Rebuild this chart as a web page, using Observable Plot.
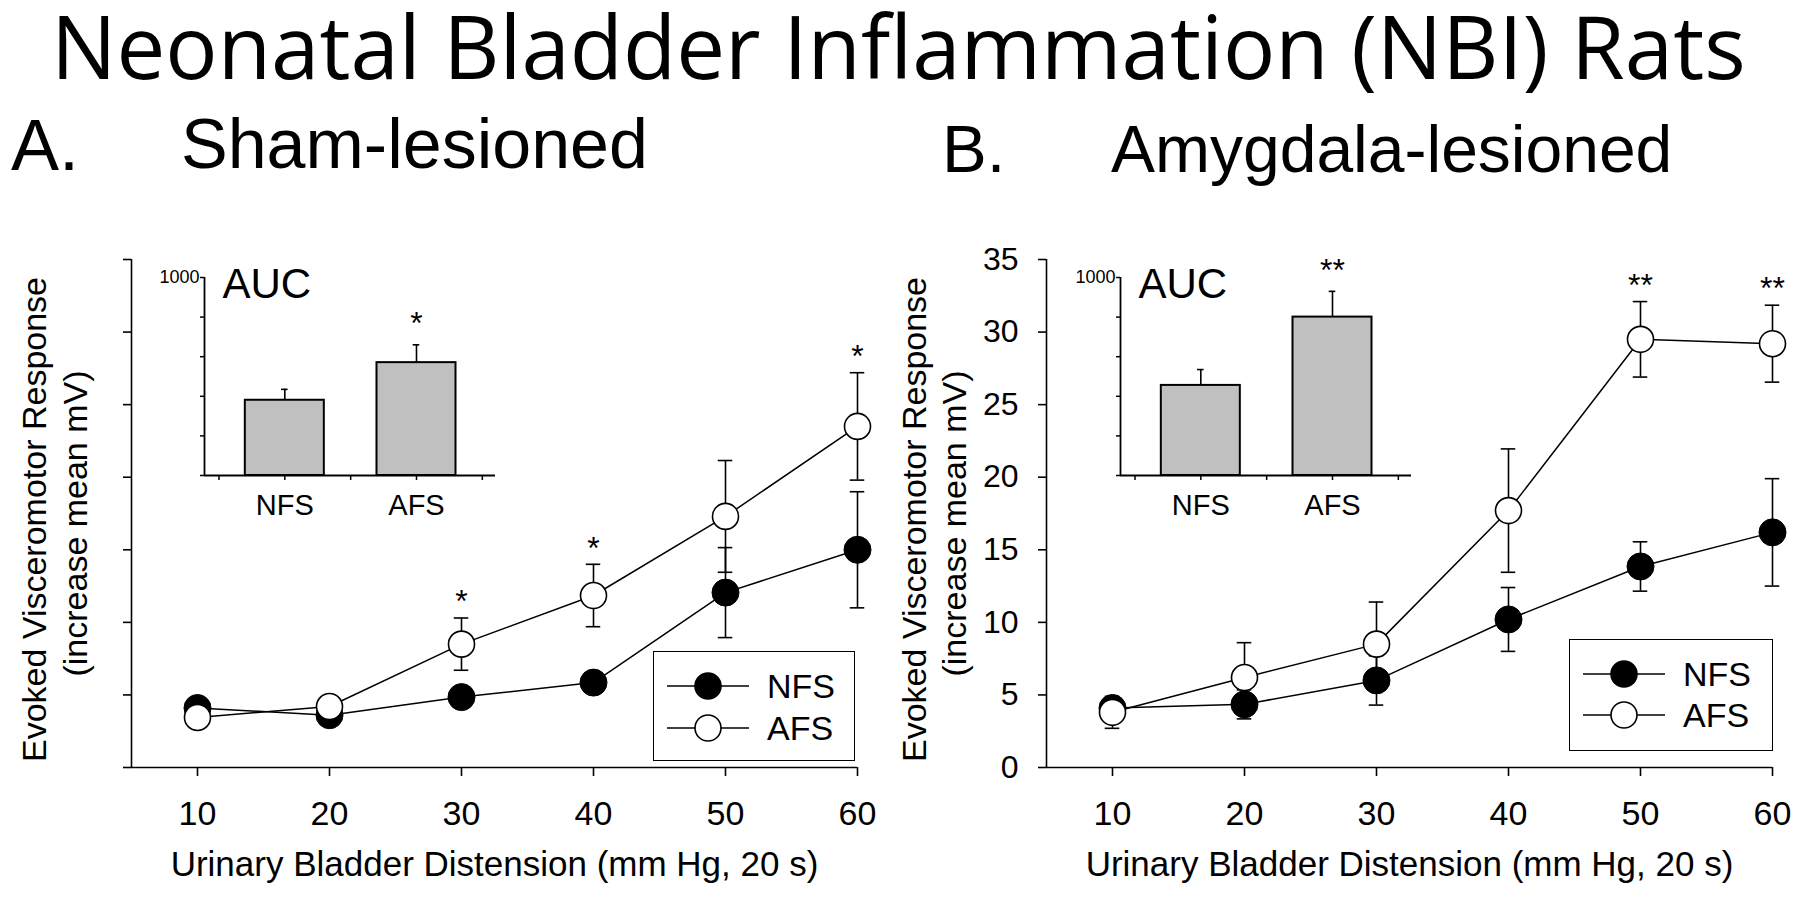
<!DOCTYPE html>
<html><head><meta charset="utf-8">
<script src="https://cdn.jsdelivr.net/npm/d3@7"></script>
<script src="https://cdn.jsdelivr.net/npm/@observablehq/plot@0.6"></script>
<style>
html,body{margin:0;padding:0;background:#fff;}
#fig{position:relative;width:1800px;height:901px;overflow:hidden;font-family:"Liberation Sans",Arial,sans-serif;color:#000;}
.abs{position:absolute;white-space:nowrap;line-height:1;}
#fig svg{background:transparent !important;overflow:visible;max-width:none;}
.panel{position:absolute;}
.legend{position:absolute;border:1.5px solid #000;background:#fff;box-sizing:border-box;}
.legend span{position:absolute;font-size:34px;line-height:1;}
</style></head><body><div id="fig"></div>
<script>
// ---------- data ----------
const pressures = [10, 20, 30, 40, 50, 60];
const yTicks = [0, 5, 10, 15, 20, 25, 30, 35];
const groups = ["NFS", "AFS"];

const shamNFS    = [4.1, 3.6, 4.85, 5.85, 12.05, 15.0];
const shamNFSerr = [0.3, 0.3, 0.4, 0.5, 3.1, 4.0];
const shamAFS    = [3.45, 4.2, 8.5, 11.85, 17.3, 23.5];
const shamAFSerr = [0.3, 0.3, 1.8, 2.15, 3.85, 3.7];
const shamSig    = ["", "", "*", "*", "", "*"];

const amyNFS    = [4.1, 4.35, 6.0, 10.2, 13.85, 16.2];
const amyNFSerr = [0.5, 1.0, 1.7, 2.2, 1.7, 3.7];
const amyAFS    = [3.8, 6.2, 8.5, 17.7, 29.5, 29.2];
const amyAFSerr = [1.1, 2.4, 2.9, 4.25, 2.6, 2.65];
const amySig    = ["", "", "", "", "**", "**"];

const aucTicks = [0, 200, 400, 600, 800, 1000];
const aucXTicks = [0.5, 1, 1.5, 2, 2.5];
const shamAUC = [380, 570], shamAUCerr = [55, 90], shamAUCsig = ["", "*"];
const amyAUC  = [455, 800], amyAUCerr  = [80, 130], amyAUCsig  = ["", "**"];

const xDomain = [5, 60];
const yDomain = [0, 35];
const aucXDomain = [0.39, 2.6];
const aucYDomain = [0, 1000];

const FONT = "Liberation Sans, Arial, sans-serif";
const fig = document.getElementById("fig");

function mainPlot(nfs, nfsErr, afs, afsErr, sig, labels, mL, mR) {
  const nfsRows = pressures.map((p, i) => ({p, m: nfs[i], e: nfsErr[i]}));
  const afsRows = pressures.map((p, i) => ({p, m: afs[i], e: afsErr[i], s: sig[i]}));
  const all = nfsRows.concat(afsRows);
  const capW = 0.55;
  return Plot.plot({
    width: 900, height: 701,
    marginLeft: mL, marginRight: mR, marginTop: 59, marginBottom: 134,
    x: {domain: xDomain},
    y: {domain: yDomain},
    style: {fontFamily: FONT, fontSize: "32px", background: "transparent", color: "black", overflow: "visible"},
    marks: [
      Plot.ruleX(all, {x: "p", y1: d => d.m - d.e, y2: d => d.m + d.e, stroke: "black", strokeWidth: 1.6}),
      Plot.ruleY(all, {y: d => d.m + d.e, x1: d => d.p - capW, x2: d => d.p + capW, stroke: "black", strokeWidth: 1.6}),
      Plot.ruleY(all, {y: d => d.m - d.e, x1: d => d.p - capW, x2: d => d.p + capW, stroke: "black", strokeWidth: 1.6}),
      Plot.line(nfsRows, {x: "p", y: "m", stroke: "black", strokeWidth: 1.5}),
      Plot.line(afsRows, {x: "p", y: "m", stroke: "black", strokeWidth: 1.5}),
      Plot.dot(nfsRows, {x: "p", y: "m", r: 13.5, fill: "black", stroke: "black", strokeWidth: 1}),
      Plot.dot(afsRows, {x: "p", y: "m", r: 13, fill: "white", stroke: "black", strokeWidth: 1.6}),
      Plot.text(afsRows, {x: "p", y: d => d.m + d.e, text: "s", dy: -16, fontSize: 32, fill: "black"}),
      Plot.ruleY([yDomain[0]], {stroke: "black", strokeWidth: 1.6}),
      Plot.ruleX([xDomain[0]], {stroke: "black", strokeWidth: 1.6}),
      Plot.axisX(pressures, {tickSize: 9, tickPadding: 24, fontSize: 34, label: null, strokeWidth: 1.6}),
      Plot.axisY(yTicks, {tickSize: 8, tickPadding: 20, fontSize: 32, label: null, strokeWidth: 1.6,
        tickFormat: labels ? (d => String(d)) : (() => "")}),
      Plot.text(["Urinary Bladder Distension (mm Hg, 20 s)"], {text: d => d, frameAnchor: "bottom", textAnchor: "middle", lineAnchor: "middle", dy: 97, fontSize: 35, fill: "black"}),
      Plot.text(["Evoked Visceromotor Response"], {text: d => d, frameAnchor: "left", textAnchor: "middle", lineAnchor: "middle", rotate: -90, dx: labels ? -131 : -96, dy: 6, fontSize: 34, fill: "black"}),
      Plot.text(["(increase mean mV)"], {text: d => d, frameAnchor: "left", textAnchor: "middle", lineAnchor: "middle", rotate: -90, dx: labels ? -91 : -55, dy: 10, fontSize: 34, fill: "black"})
    ]
  });
}

function insetPlot(vals, errs, sig) {
  const rows = groups.map((g, i) => ({g, pos: i + 1, v: vals[i], e: errs[i], s: sig[i]}));
  return Plot.plot({
    width: 360, height: 300,
    marginLeft: 60, marginRight: 9, marginTop: 40, marginBottom: 62,
    x: {domain: aucXDomain},
    y: {domain: aucYDomain},
    style: {fontFamily: FONT, fontSize: "18px", background: "transparent", color: "black", overflow: "visible"},
    marks: [
      Plot.ruleX(rows, {x: "pos", y1: "v", y2: d => d.v + d.e, stroke: "black", strokeWidth: 1.6}),
      Plot.ruleY(rows, {y: d => d.v + d.e, x1: d => d.pos - 0.025, x2: d => d.pos + 0.025, stroke: "black", strokeWidth: 1.6}),
      Plot.rectY(rows, {x1: d => d.pos - 0.3, x2: d => d.pos + 0.3, y: "v", fill: "#c0c0c0", stroke: "black", strokeWidth: 2}),
      Plot.text(rows, {x: "pos", y: d => d.v + d.e, text: "s", dy: -21, fontSize: 32, fill: "black"}),
      Plot.ruleY([aucYDomain[0]], {stroke: "black", strokeWidth: 1.8}),
      Plot.ruleX([aucXDomain[0]], {stroke: "black", strokeWidth: 1.8}),
      Plot.axisY(aucTicks, {tickSize: 4, tickPadding: 1, fontSize: 18, label: null, strokeWidth: 1.5,
        tickFormat: d => d === aucYDomain[1] ? String(d) : ""}),
      Plot.axisX(aucXTicks, {tickSize: 5, tickPadding: 14, fontSize: 29, label: null, strokeWidth: 1.5,
        tickFormat: d => Number.isInteger(d) ? groups[d - 1] : ""}),
      Plot.text(["AUC"], {text: d => d, frameAnchor: "top-left", textAnchor: "start", lineAnchor: "top", dx: 18, dy: -9, fontSize: 42, fill: "black"})
    ]
  });
}

function place(node, left, top) {
  const w = document.createElement("div");
  w.className = "panel";
  w.style.left = left + "px"; w.style.top = top + "px";
  w.appendChild(node);
  fig.appendChild(w);
}

function addText(txt, left, top, size, family) {
  const d = document.createElement("div");
  d.className = "abs";
  d.textContent = txt;
  d.style.left = left + "px"; d.style.top = top + "px";
  d.style.fontSize = size + "px";
  if (family) d.style.fontFamily = family;
  fig.appendChild(d);
  return d;
}

function legend(left, top, w, h, rowsY) {
  const box = document.createElement("div");
  box.className = "legend";
  box.style.left = left + "px"; box.style.top = top + "px";
  box.style.width = w + "px"; box.style.height = h + "px";
  const svg = d3.create("svg").attr("width", w).attr("height", h)
    .style("position", "absolute").style("left", "-1.5px").style("top", "-1.5px");
  groups.forEach((g, i) => {
    const y = rowsY[i];
    svg.append("line").attr("x1", 14).attr("x2", 96).attr("y1", y).attr("y2", y)
      .attr("stroke", "black").attr("stroke-width", 1.6);
    svg.append("circle").attr("cx", 55).attr("cy", y).attr("r", 13)
      .attr("fill", g === "NFS" ? "black" : "white").attr("stroke", "black").attr("stroke-width", 1.6);
    const s = document.createElement("span");
    s.textContent = g;
    s.style.left = "113px";
    s.style.top = (y - 1.5 - 17) + "px";
    box.appendChild(s);
  });
  box.appendChild(svg.node());
  fig.appendChild(box);
}

// ---------- layout ----------
place(mainPlot(shamNFS, shamNFSerr, shamAFS, shamAFSerr, shamSig, false, 131, 43), 0, 200);
place(mainPlot(amyNFS, amyNFSerr, amyAFS, amyAFSerr, amySig, true, 146, 28), 900, 200);
place(insetPlot(shamAUC, shamAUCerr, shamAUCsig), 144, 237);
place(insetPlot(amyAUC, amyAUCerr, amyAUCsig), 1060, 237);
legend(653, 651, 202, 110, [35, 77]);
legend(1569, 639, 204, 112, [35, 76]);

const t = addText("Neonatal Bladder Inflammation (NBI) Rats", 40, 2, 87, "'Open Sans', 'Noto Sans', sans-serif");
const tw = t.getBoundingClientRect().width;
t.style.left = Math.round(898 - tw / 2) + "px";
addText("A.", 11, 109, 72);
addText("Sham-lesioned", 181, 109, 70);
addText("B.", 942, 115, 67);
addText("Amygdala-lesioned", 1111, 116, 66);
</script></body></html>
